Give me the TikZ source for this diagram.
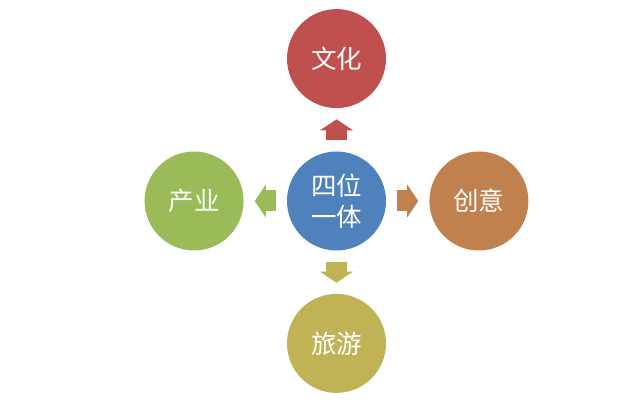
\documentclass[tikz,border=0pt]{standalone}
\usepackage{fontspec}
\newfontfamily\cjk{Noto Sans CJK SC}
\usepackage{xcolor}
\usepackage{tikz}
\usetikzlibrary{arrows.meta,positioning}

\definecolor{hubblue}{HTML}{4F81BD}
\definecolor{culred}{HTML}{C0504D}
\definecolor{indgreen}{HTML}{9BBB59}
\definecolor{creorange}{HTML}{C0814F}
\definecolor{touolive}{HTML}{BFB356}

\begin{document}
\begin{tikzpicture}[
    x=1pt, y=1pt,
    node distance=43pt,
    ball/.style={circle, minimum size=99pt, inner sep=0pt, text=white, align=center,
        font=\cjk\fontsize{25.5}{31}\selectfont},
    fat/.style={line width=21pt, shorten <=11pt, shorten >=11pt,
        -{Triangle[width=33pt, length=11pt, line width=0pt]}}
]
    \useasboundingbox (0,0) rectangle (640,-411);

    % Centre
    \node[ball, fill=hubblue] (hub) at (336.5,-201) {四位\\一体};

    % Around
    \node[ball, fill=culred, above=of hub] (culture) {文化};
    \node[ball, fill=creorange, right=of hub] (creative) {创意};
    \node[ball, fill=touolive, below=of hub] (tourism) {旅游};
    \node[ball, fill=indgreen, left=of hub] (industry) {产业};

    % Arrows
    \draw[fat, culred] (hub) -- (culture);
    \draw[fat, creorange] (hub) -- (creative);
    \draw[fat, touolive] (hub) -- (tourism);
    \draw[fat, indgreen] (hub) -- (industry);
\end{tikzpicture}
\end{document}
